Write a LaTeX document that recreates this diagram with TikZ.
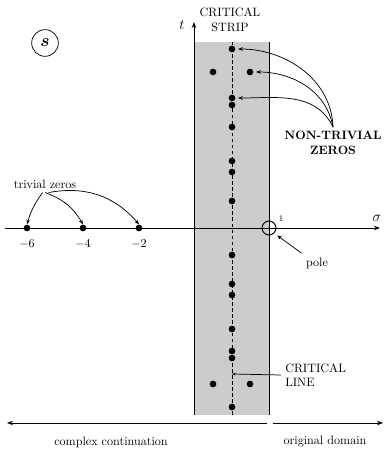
\documentclass[tikz,border=0pt]{standalone}
\usetikzlibrary{arrows.meta}
\tikzset{
  zero/.style={circle,fill,inner sep=0pt,minimum size=5.5pt},
  note/.style={-{Stealth[length=4pt]},line width=0.6pt},
}
\begin{document}
\begin{tikzpicture}[x=0.029cm,y=0.029cm,>={Stealth[length=5pt]}]
  \useasboundingbox (-194,-221) rectangle (191,228);
  % Critical strip
  \fill[gray!40] (0,-187) rectangle (75,186);
  \draw[thick] (75,-187) -- (75,186);
  \draw[dash pattern=on 3pt off 2pt] (38,-187) -- (38,186);
  % Axes
  \coordinate (tbot) at (0,-187);
  \coordinate (ttop) at (0,206);
  \coordinate (sleft) at (-189,0);
  \coordinate (sright) at (186,0);
  \draw[thick,->] (tbot) -- (ttop);
  \draw[thick,->] (sleft) -- (sright);
  \node[font=\large] (tlab) at (-12,203) {$t$};
  \node[font=\large] (siglab) at (183,10) {$\sigma$};
  \node[circle,draw,semithick,minimum size=22pt,inner sep=0pt,font=\Large\boldmath] (splane) at (-149,185) {$s$};
  % Pole
  \node[circle,draw,thick,minimum size=11.5pt,inner sep=0pt] (pole) at (75,0) {};
  \node[font=\scriptsize] (one) at (87,9) {1};
  \node (poletxt) at (123,-35) {pole};
  \draw[note,shorten >=3pt] (poletxt.north west) -- (pole.south east);
  % Trivial zeros
  \foreach \x/\n in {-167/6,-111/4,-55/2} {
    \node[zero] (t\n) at (\x,0) {};
    \node (l\n) at (\x,-16) {$-\n$};
  }
  \node (triv) at (-149,44) {trivial zeros};
  \draw[note] ([xshift=-2pt]triv.south) to[bend right=10] (t6.north);
  \draw[note] (triv.south) to[bend left=20] (t4.north);
  \draw[note] ([xshift=3pt]triv.south) to[bend left=30] (t2.north);
  % Non-trivial zeros
  \foreach \y in {179,130,123,101,67,56,27} {
    \node[zero] (p\y) at (38,\y) {};
    \node[zero] (m\y) at (38,-\y) {};
  }
  \foreach \x/\n in {19/a,56/b} {
    \node[zero] (p\n) at (\x,156) {};
    \node[zero] (m\n) at (\x,-156) {};
  }
  \node[font=\bfseries,align=center] (nt) at (139,85) {NON-TRIVIAL\\ZEROS};
  \draw[note,shorten >=2pt] (nt.north) to[out=92,in=0] (p179.east);
  \draw[note,shorten >=2pt] (nt.north) to[out=100,in=0] (pb.east);
  \draw[note,shorten >=2pt] (nt.north) to[out=115,in=0] (p130.east);
  % Labels of strip and line
  \node[align=center] (strip) at (36,208) {CRITICAL\\STRIP};
  \coordinate (clp) at (38,-146);
  \node[align=left,anchor=west] (cl) at (87,-147) {CRITICAL\\LINE};
  \draw[-{Stealth[length=3pt]},line width=0.6pt] (cl.west) -- (clp);
  % Domains
  \coordinate (ccl) at (-187,-195);
  \coordinate (ccr) at (73,-195);
  \coordinate (odl) at (79,-195);
  \coordinate (odr) at (189,-195);
  \draw[thick,<-] (ccl) -- (ccr);
  \draw[thick,->] (odl) -- (odr);
  \node (cc) at (-83,-214) {complex continuation};
  \node (od) at (131,-214) {original domain};
\end{tikzpicture}
\end{document}
